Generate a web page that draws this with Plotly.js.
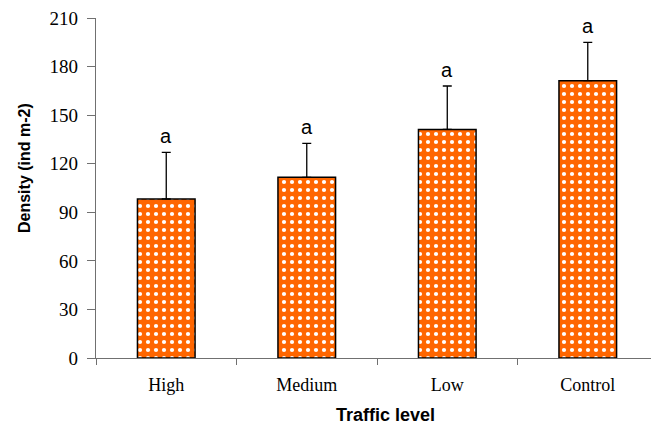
<!DOCTYPE html>
<html>
<head>
<meta charset="utf-8">
<script src="https://cdn.plot.ly/plotly-3.0.1.min.js"></script>
<style>html,body{margin:0;padding:0;background:#fff;}#chart{width:651px;height:425px;}</style>
</head>
<body>
<div id="chart"></div>
<script>
const categories = ["High", "Medium", "Low", "Control"];
const densityMeans = [98.2, 111.6, 141.2, 171.3];
const densityErrors = [28.8, 21.0, 26.8, 23.7];
const groupLetters = ["a", "a", "a", "a"];
const yTickValues = [0, 30, 60, 90, 120, 150, 180, 210];
const xTitle = "Traffic level";
const yTitle = "Density (ind m-2)";

const trace = {
  type: "bar",
  x: categories,
  y: densityMeans,
  width: 0.41,
  marker: {
    color: "#FF6600",
    line: {color: "#000000", width: 1.5},
    pattern: {shape: ".", fgcolor: "#ffffff", bgcolor: "#FF6600", fgopacity: 1, size: 8, solidity: 0.22, fillmode: "replace"}
  },
  error_y: {type: "data", symmetric: false, array: densityErrors, arrayminus: categories.map(() => 0), color: "#000000", thickness: 1.3, width: 4.5},
  hoverinfo: "skip"
};

const annotations = categories.map((c, i) => ({
  x: c, y: densityMeans[i] + densityErrors[i], xref: "x", yref: "y",
  text: groupLetters[i], showarrow: false, yanchor: "bottom", yshift: 3,
  font: {family: "Arial, Liberation Sans, sans-serif", size: 20, color: "#000"}
}));

// axis titles placed as paper annotations (offset like the original)
annotations.push({
  xref: "paper", yref: "paper", x: (385 - 96) / 555, y: (358 - 415) / 340,
  xanchor: "center", yanchor: "middle", showarrow: false, text: xTitle,
  font: {family: "Arial, Liberation Sans, sans-serif", size: 18, color: "#000", weight: "bold"}
});
annotations.push({
  xref: "paper", yref: "paper", x: (24 - 96) / 555, y: (358 - 168) / 340,
  xanchor: "center", yanchor: "middle", showarrow: false, text: yTitle, textangle: -90,
  font: {family: "Arial, Liberation Sans, sans-serif", size: 16, color: "#000", weight: "bold"}
});

const layout = {
  width: 651, height: 425,
  margin: {l: 96, r: 0, t: 18, b: 67},
  paper_bgcolor: "#fff", plot_bgcolor: "#fff",
  showlegend: false,
  xaxis: {
    type: "category", range: [-0.5, 3.45],
    tickson: "boundaries", ticks: "outside", ticklen: 6, tickcolor: "#707070", tickwidth: 1,
    showline: true, linecolor: "#707070", linewidth: 1.3, showgrid: false, zeroline: false,
    tickfont: {family: "Liberation Serif, Times New Roman, serif", size: 18, color: "#000"},
    ticklabelstandoff: 10
  },
  yaxis: {
    range: [0, 210], tickvals: yTickValues, ticktext: yTickValues.map(String),
    ticks: "outside", ticklen: 8, tickcolor: "#707070", tickwidth: 1,
    showline: true, linecolor: "#707070", linewidth: 1.3, showgrid: false, zeroline: false,
    tickfont: {family: "Liberation Serif, Times New Roman, serif", size: 19, color: "#000"},
    ticklabelstandoff: 5
  },
  annotations: annotations
};

Plotly.newPlot("chart", [trace], layout, {displayModeBar: false, staticPlot: true});
</script>
</body>
</html>
